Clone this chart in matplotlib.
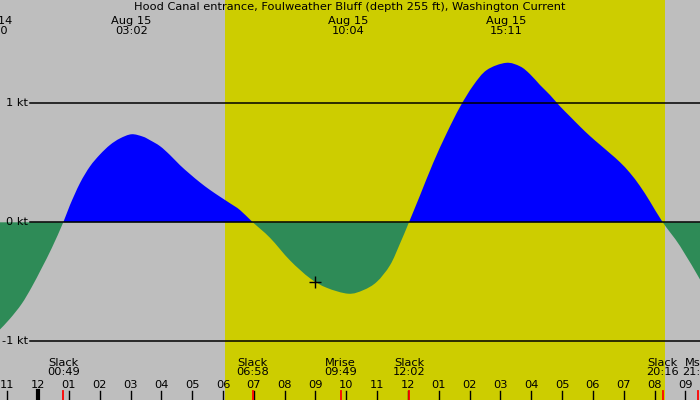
import numpy as np
import matplotlib.pyplot as plt
import matplotlib.transforms as mtransforms
from matplotlib.path import Path
from matplotlib.patches import PathPatch, Rectangle

# current (kt) vs hours since midnight Aug 15
hours = [-1.236, -0.912, -0.532, -0.208, 0.117, 0.441, 0.817, 1.035, 1.360, 1.684,
         2.008, 2.333, 2.657, 3.033, 3.400, 3.632, 3.956, 4.281, 4.605, 4.930,
         5.254, 5.578, 5.903, 6.227, 6.551, 6.967, 7.524, 8.173, 8.822, 9.364,
         10.067, 10.55, 10.99, 11.42, 11.74, 12.033, 12.39, 12.82, 13.26, 13.69,
         14.12, 14.56, 15.183, 15.64, 15.96, 16.284, 16.608, 16.933, 17.257, 17.582,
         17.906, 18.231, 18.555, 18.88, 19.204, 19.528, 19.853, 20.267, 20.83, 21.476]
speed = [-0.90, -0.81, -0.685, -0.545, -0.385, -0.218, 0.0, 0.145, 0.33, 0.47,
         0.57, 0.65, 0.705, 0.74, 0.72, 0.69, 0.64, 0.565, 0.48, 0.405,
         0.335, 0.272, 0.215, 0.16, 0.103, 0.0, -0.13, -0.32, -0.47, -0.55,
         -0.60, -0.57, -0.50, -0.36, -0.18, 0.0, 0.225, 0.50, 0.75, 0.97,
         1.15, 1.28, 1.34, 1.31, 1.245, 1.154, 1.07, 0.975, 0.89, 0.805,
         0.725, 0.652, 0.58, 0.505, 0.415, 0.305, 0.175, 0.0, -0.20, -0.48]

title = 'Hood Canal entrance, Foulweather Bluff (depth 255 ft), Washington Current'

# max / min labels at the top
peak_times = [-1.50, 3.033, 10.067, 15.183]
peak_labels = ['Aug 14\n22:30', 'Aug 15\n03:02', 'Aug 15\n10:04', 'Aug 15\n15:11']

# events along the bottom
event_times = [0.817, 6.967, 9.817, 12.033, 20.267, 21.42]
event_labels = ['Slack\n00:49', 'Slack\n06:58', 'Mrise\n09:49', 'Slack\n12:02',
                'Slack\n20:16', 'Mset\n21:25']

sunrise = 6.064
sunset = 20.34
now_time, now_speed = 8.99, -0.50

kt_levels = [1, 0, -1]
hour_ticks = list(range(-1, 22))

x_lo, x_hi = -1.236, 21.476
y_lo, y_hi = -1.493, 1.868


def smooth_area(xs, ys):
    # closed area between the curve and 0, curve drawn as Catmull-Rom beziers
    pts = np.column_stack([xs, ys])
    verts = [(xs[0], 0.0), tuple(pts[0])]
    codes = [Path.MOVETO, Path.LINETO]
    n = len(pts)
    for i in range(n - 1):
        p0 = pts[max(i - 1, 0)]
        p1 = pts[i]
        p2 = pts[i + 1]
        p3 = pts[min(i + 2, n - 1)]
        verts += [tuple(p1 + (p2 - p0) / 6), tuple(p2 - (p3 - p1) / 6), tuple(p2)]
        codes += [Path.CURVE4] * 3
    verts += [(xs[-1], 0.0), (xs[0], 0.0)]
    codes += [Path.LINETO, Path.CLOSEPOLY]
    return Path(verts, codes)


fig = plt.figure(figsize=(7, 4), dpi=100, facecolor='#bebebe')
ax = fig.add_axes([0, 0, 1, 1])
ax.set_facecolor('#bebebe')
ax.set_xlim(x_lo, x_hi)
ax.set_ylim(y_lo, y_hi)
ax.axis('off')

fs = 8.2
ax.axvspan(sunrise, sunset, color='#cdcd00', lw=0, zorder=1)

area = smooth_area(np.array(hours), np.array(speed))
for color, y0, y1 in [('#0000ff', 0, y_hi + 1), ('#2e8b57', y_lo - 1, 0)]:
    patch = PathPatch(area, facecolor=color, lw=0, zorder=2)
    ax.add_patch(patch)
    clip = Rectangle((x_lo - 1, y0), x_hi - x_lo + 2, y1 - y0, transform=ax.transData)
    patch.set_clip_path(clip)

for k in kt_levels:
    ax.axhline(k, xmin=30 / 700, xmax=1, color='black', lw=1.1, zorder=3)
    ax.text(x_lo + 28 / 700 * (x_hi - x_lo), k, '%d kt' % k, ha='right', va='center',
            fontsize=fs, zorder=4)

ax.plot([now_time], [now_speed], marker='+', color='black', ms=9, mew=1, zorder=5)

trans = mtransforms.blended_transform_factory(ax.transData, ax.transAxes)

ax.text(0.5, 1 - 7.5 / 400, title, transform=ax.transAxes, ha='center', va='center',
        fontsize=fs)
for t, lab in zip(peak_times, peak_labels):
    ax.text(t, 1 - 26 / 400, lab, transform=trans, ha='center', va='center',
            fontsize=fs, linespacing=0.95, clip_on=False)

for t, lab in zip(event_times, event_labels):
    ax.text(t, 1 - 367.5 / 400, lab, transform=trans, ha='center', va='center',
            fontsize=fs, linespacing=0.95)
    ax.axvline(t, ymin=0, ymax=9 / 400, color='red', lw=1.3, zorder=6)

for hr in hour_ticks:
    lab = '%02d' % ((hr - 1) % 12 + 1)
    ax.text(hr, 1 - 385 / 400, lab, transform=trans, ha='center', va='center', fontsize=fs)
    ax.axvline(hr, ymin=0, ymax=9 / 400, color='black', lw=3 if hr % 24 == 0 else 1,
               zorder=5)

fig.savefig('out.png', dpi=100, facecolor=fig.get_facecolor())
